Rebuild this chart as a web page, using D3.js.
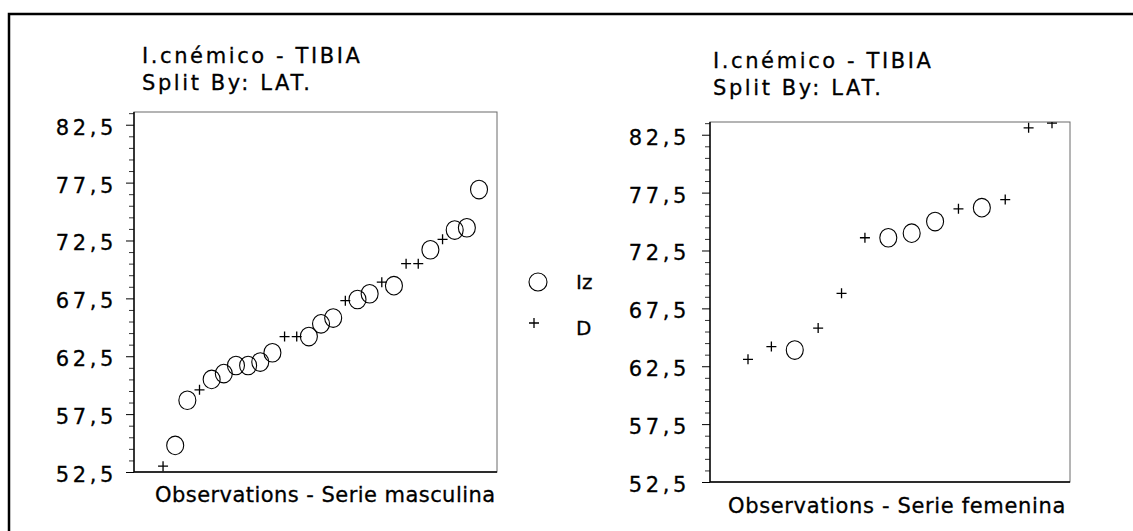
<!DOCTYPE html>
<html>
<head>
<meta charset="utf-8">
<script src="https://cdn.jsdelivr.net/npm/d3@7"></script>
<style>
body{margin:0;background:#fff;}
svg{display:block;}
text{font-family:"DejaVu Sans",Verdana,sans-serif;fill:#000;stroke:#000;stroke-width:0.3px;}
</style>
</head>
<body>
<div id="chart"></div>
<script>
//Data
const titleLines = ["I.cnémico - TIBIA", "Split By: LAT."];
const sideNames = ["Iz", "D"];
const yTicks = [52.5, 57.5, 62.5, 67.5, 72.5, 77.5, 82.5];

const mascLabel = "Observations - Serie masculina";
const mascObs = [1,2,3,4,5,6,7,8,9,10,11,12,13,14,15,16,17,18,19,20,21,22,23,24,25,26,27];
const mascValues = [53.0,54.8,58.7,59.6,60.5,61.0,61.7,61.7,62.0,62.8,64.2,64.2,64.2,65.3,65.8,67.3,67.4,67.9,68.9,68.6,70.5,70.5,71.7,72.6,73.4,73.6,76.9];
const mascSide = ["D","Iz","Iz","D","Iz","Iz","Iz","Iz","Iz","Iz","D","D","Iz","Iz","Iz","D","Iz","Iz","D","Iz","D","D","Iz","D","Iz","Iz","Iz"];

const femLabel = "Observations - Serie femenina";
const femObs = [1,2,3,4,5,6,7,8,9,10,11,12,13,14];
const femValues = [63.1,64.2,63.9,65.8,68.8,73.6,73.6,74.0,75.0,76.1,76.2,76.9,83.1,83.5];
const femSide = ["D","D","Iz","D","D","D","Iz","Iz","Iz","D","Iz","D","D","D"];

const width = 1133;
const height = 531;

//Creation du svg
const svg = d3.create("svg")
    .attr("width", width)
    .attr("height", height)
    .attr("viewBox", [0, 0, width, height]);

//Outer frame (runs off the right and bottom edge)
svg.append("rect")
    .attr("x", 9).attr("y", 14)
    .attr("width", 1300).attr("height", 700)
    .attr("fill", "none")
    .attr("stroke", "#000")
    .attr("stroke-width", 2.5);

const fmt = d => d.toFixed(1).replace(".", ",");
const plusPath = "M-5,0H5M0,-5V5";

function panel(p) {
  const x = d3.scaleLinear().domain(p.xDomain).range([p.left, p.right]);
  const y = d3.scaleLinear().domain([52.5, 83.6]).range([p.bottom, p.top]);

  //Title
  svg.append("g").selectAll("text")
    .data(titleLines)
    .join("text")
      .attr("x", p.titleX)
      .attr("y", (d, i) => p.titleY + i * 26.5)
      .style("font-size", "21px")
      .style("letter-spacing", "2.6px")
      .text(d => d);

  //Plot box
  svg.append("rect")
      .attr("x", p.left).attr("y", p.top)
      .attr("width", p.right - p.left).attr("height", p.bottom - p.top)
      .attr("fill", "none")
      .attr("stroke", "#6a6a6a")
      .attr("stroke-width", 1);

  //Minor ticks
  const minor = d3.range(53.5, 83.6, 1).filter(v => !yTicks.includes(v));
  svg.append("g")
      .attr("transform", `translate(${p.left},0)`)
      .call(d3.axisLeft(y).tickValues(minor).tickSize(5).tickFormat(""))
      .call(g => g.select(".domain").remove())
      .call(g => g.selectAll("line").attr("stroke", "#333"));

  //Major ticks and labels
  svg.append("g")
      .attr("transform", `translate(${p.left},0)`)
      .call(d3.axisLeft(y).tickValues(yTicks).tickSize(8).tickPadding(p.pad).tickFormat(fmt))
      .call(g => g.select(".domain").remove())
      .call(g => g.selectAll("line").attr("stroke", "#000"))
      .call(g => g.selectAll("text")
          .attr("dy", "0.45em")
          .style("font-size", "21px")
          .style("letter-spacing", "3.6px")
          .style("font-family", "'DejaVu Sans',Verdana,sans-serif"));

  //Axis lines
  svg.append("line")
      .attr("x1", p.left).attr("x2", p.left)
      .attr("y1", p.top).attr("y2", p.bottom)
      .attr("stroke", "#000").attr("stroke-width", 1.4);
  svg.append("line")
      .attr("x1", p.left).attr("x2", p.right)
      .attr("y1", p.bottom).attr("y2", p.bottom)
      .attr("stroke", "#000").attr("stroke-width", 1.4);

  //Clip for marks
  svg.append("clipPath").attr("id", p.id)
    .append("rect")
      .attr("x", p.left).attr("y", p.top)
      .attr("width", p.right - p.left).attr("height", p.bottom - p.top);

  const pts = p.obs.map((o, i) => ({obs: o, value: p.values[i], side: p.side[i]}));
  const marks = svg.append("g").attr("clip-path", `url(#${p.id})`);

  marks.selectAll("ellipse")
    .data(pts.filter(d => d.side == "Iz"))
    .join("ellipse")
      .attr("cx", d => x(d.obs))
      .attr("cy", d => y(d.value))
      .attr("rx", 8.5).attr("ry", 9.3)
      .attr("fill", "none")
      .attr("stroke", "#000")
      .attr("stroke-width", 1.1);

  marks.selectAll("path")
    .data(pts.filter(d => d.side == "D"))
    .join("path")
      .attr("transform", d => `translate(${x(d.obs)},${y(d.value)})`)
      .attr("d", plusPath)
      .attr("fill", "none")
      .attr("stroke", "#000")
      .attr("stroke-width", 1.3);

  //Axis title
  svg.append("text")
      .attr("x", p.labelX)
      .attr("y", p.labelY)
      .style("font-size", "21px")
      .style("letter-spacing", p.labelSpacing)
      .text(p.label);
}

panel({id: "clipMasc", left: 134, right: 497, top: 112, bottom: 472, pad: 9,
  xDomain: [-1.39, 28.48], obs: mascObs, values: mascValues, side: mascSide,
  titleX: 142, titleY: 63, label: mascLabel, labelX: 155, labelY: 502, labelSpacing: "0.45px"});

panel({id: "clipFem", left: 710, right: 1070, top: 122, bottom: 482, pad: 12,
  xDomain: [-0.625, 14.77], obs: femObs, values: femValues, side: femSide,
  titleX: 713, titleY: 68, label: femLabel, labelX: 728, labelY: 513, labelSpacing: "0.65px"});

//Legend
const legend = svg.append("g").selectAll("g")
  .data(sideNames)
  .join("g")
    .attr("transform", (d, i) => `translate(0,${i * 46})`);

legend.filter(d => d == "Iz").append("circle")
    .attr("cx", 538).attr("cy", 282).attr("r", 9)
    .attr("fill", "none").attr("stroke", "#000").attr("stroke-width", 1.1);

legend.filter(d => d == "D").append("path")
    .attr("transform", "translate(534,277)")
    .attr("d", plusPath)
    .attr("fill", "none").attr("stroke", "#000").attr("stroke-width", 1.3);

legend.append("text")
    .attr("x", 576)
    .attr("y", 289)
    .style("font-size", "20px")
    .text(d => d);

document.getElementById("chart").appendChild(svg.node());
</script>
</body>
</html>
